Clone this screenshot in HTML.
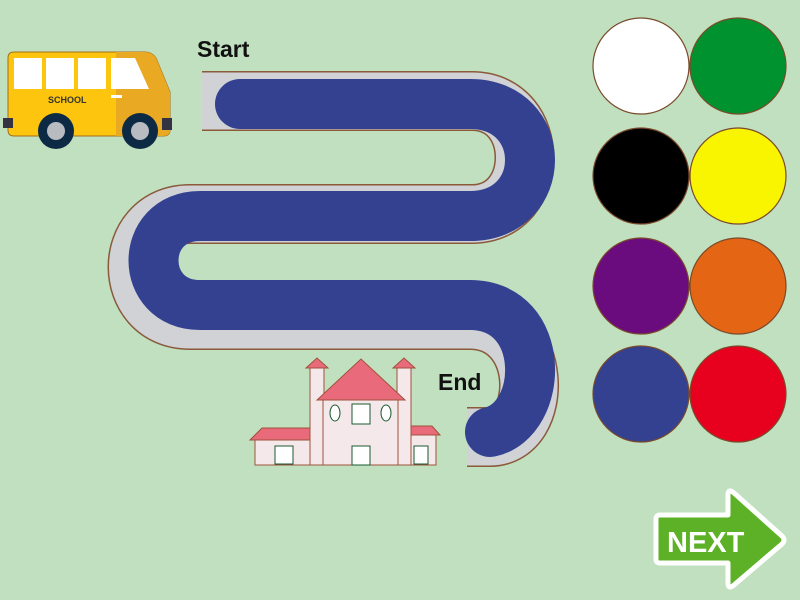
<!DOCTYPE html>
<html><head><meta charset="utf-8">
<style>
html,body{margin:0;padding:0;background:#c0e0bf;}
svg{display:block;font-family:"Liberation Sans",sans-serif;}
</style></head>
<body>
<svg width="800" height="600" viewBox="0 0 800 600">
<rect width="800" height="600" fill="#c0e0bf"/>
<!-- road -->
<g fill="none">
<path d="M202,101 H472 C542,101 542,214 472,214 H190 C120,214 120,320 190,320 H470 C545,320 545,437 490,437 H467" stroke="#8a5a3a" stroke-width="60"/>
<path d="M202,101 H472 C542,101 542,214 472,214 H190 C120,214 120,320 190,320 H470 C545,320 545,437 490,437 H467" stroke="#d0d2d6" stroke-width="57"/>
</g>
<rect x="195" y="60" width="7" height="80" fill="#c0e0bf"/>
<!-- painted blue stroke -->
<path d="M240,104 H470 C550,104 550,216 470,216 H200 C138,216 138,305 200,305 H470 C548,305 545,420 490,432" fill="none" stroke="#334190" stroke-width="50" stroke-linecap="round" stroke-linejoin="round"/>
<text x="197" y="57" font-size="23" font-weight="bold" fill="#111">Start</text>
<text x="438" y="390" font-size="23" font-weight="bold" fill="#111">End</text>
<!-- bus -->
<g>
<path d="M14,52 H145 Q152,52 156,58 L170,92 V130 Q170,136 163,136 H14 Q8,136 8,130 V58 Q8,52 14,52Z" fill="#fdc50d" stroke="#a07020" stroke-width="1"/>
<path d="M116,52 H145 Q152,52 156,58 L170,92 V130 Q170,136 163,136 H116Z" fill="#eaa922"/>
<rect x="14" y="58" width="28" height="31" fill="#fff"/>
<rect x="46" y="58" width="28" height="31" fill="#fff"/>
<rect x="78" y="58" width="28" height="31" fill="#fff"/>
<path d="M111,58 H135 L149,89 H111Z" fill="#fff"/>
<rect x="111" y="95" width="11" height="3" fill="#fff"/>
<text x="48" y="103" font-size="9" font-weight="bold" fill="#333">SCHOOL</text>
<rect x="3" y="118" width="10" height="10" fill="#334"/>
<rect x="162" y="118" width="10" height="12" fill="#334"/>
<circle cx="56" cy="131" r="18" fill="#0d2a45"/><circle cx="56" cy="131" r="9" fill="#b8bcc0"/>
<circle cx="140" cy="131" r="18" fill="#0d2a45"/><circle cx="140" cy="131" r="9" fill="#b8bcc0"/>
</g>
<!-- house -->
<g stroke="#a0523a" stroke-width="1">
<rect x="255" y="438" width="62" height="27" fill="#f5e8ea"/>
<path d="M250,440 L262,428 H312 L322,440Z" fill="#e96a7b"/>
<rect x="400" y="434" width="36" height="31" fill="#f5e8ea"/>
<path d="M398,435 L405,426 H432 L440,435Z" fill="#e96a7b"/>
<rect x="310" y="368" width="14" height="97" fill="#f5e8ea"/>
<rect x="397" y="368" width="14" height="97" fill="#f5e8ea"/>
<path d="M306,368 L317,358 L328,368Z" fill="#e96a7b"/>
<path d="M393,368 L404,358 L415,368Z" fill="#e96a7b"/>
<rect x="323" y="398" width="75" height="67" fill="#f5e8ea"/>
<path d="M317,400 L361,359 L405,400Z" fill="#e96a7b"/>
<rect x="352" y="404" width="18" height="20" fill="#fff" stroke="#1a5a30"/>
<rect x="352" y="446" width="18" height="19" fill="#fff" stroke="#1a5a30"/>
<rect x="275" y="446" width="18" height="18" fill="#fff" stroke="#1a5a30"/>
<rect x="414" y="446" width="14" height="18" fill="#fff" stroke="#1a5a30"/>
<ellipse cx="335" cy="413" rx="5" ry="8" fill="#fff" stroke="#1a5a30"/>
<ellipse cx="386" cy="413" rx="5" ry="8" fill="#fff" stroke="#1a5a30"/>
</g>
<!-- colour swatches -->
<g stroke="#7a4a2a" stroke-width="1.2">
<circle cx="641" cy="66" r="48" fill="#ffffff"/>
<circle cx="738" cy="66" r="48" fill="#00922f"/>
<circle cx="641" cy="176" r="48" fill="#000000"/>
<circle cx="738" cy="176" r="48" fill="#f9f400"/>
<circle cx="641" cy="286" r="48" fill="#6a0c7e"/>
<circle cx="738" cy="286" r="48" fill="#e46614"/>
<circle cx="641" cy="394" r="48" fill="#334190"/>
<circle cx="738" cy="394" r="48" fill="#e8001f"/>
</g>
<!-- next button -->
<g>
<path d="M660,515 H728 V495 Q728,488 734,493 L782,536 Q786,540 782,544 L734,585 Q728,590 728,583 V563 H660 Q656,563 656,559 V519 Q656,515 660,515Z" fill="#5db126" stroke="#fff" stroke-width="5" stroke-linejoin="round"/>
<text x="667" y="552" font-size="29" font-weight="bold" fill="#fff">NEXT</text>
</g>
</svg>
</body></html>
